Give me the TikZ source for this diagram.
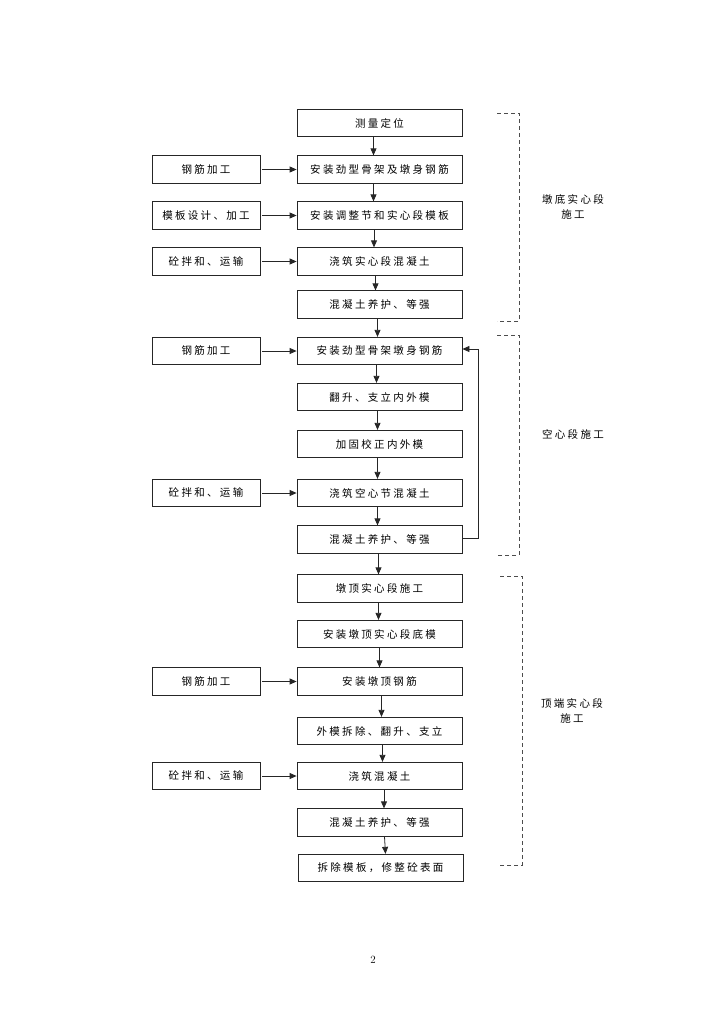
\documentclass[tikz,border=0pt]{standalone}
\usepackage{fontspec}
\newfontfamily\cjk[LetterSpace=22]{Noto Sans CJK SC}
\usetikzlibrary{arrows.meta}
\begin{document}
\begin{tikzpicture}[x=1pt,y=-1pt,
  font=\cjk\fontsize{10.5}{12}\selectfont,
  mainbox/.style={draw=black!85,line width=0.8pt,minimum width=165pt,minimum height=27.5pt,inner sep=0pt},
  sidebox/.style={draw=black!85,line width=0.8pt,minimum width=108pt,minimum height=27.5pt,inner sep=0pt},
  arr/.style={draw=black!85,line width=0.8pt,-{Triangle[length=7pt,width=6pt]}},
  brk/.style={draw=black!70,line width=0.8pt,dash pattern=on 4pt off 3pt},
  lbl/.style={align=center,inner sep=0pt}]
\useasboundingbox (0,0) rectangle (726,1026);
% main column
\node[mainbox] (b1) at (379.5,123) {测量定位};
\node[mainbox] (b2) at (379.5,169.5) {安装劲型骨架及墩身钢筋};
\node[mainbox] (b3) at (379.5,215.5) {安装调整节和实心段模板};
\node[mainbox] (b4) at (379.5,261.5) {浇筑实心段混凝土};
\node[mainbox] (b5) at (379.5,304.5) {混凝土养护、等强};
\node[mainbox] (b6) at (379.5,351) {安装劲型骨架墩身钢筋};
\node[mainbox] (b7) at (379.5,397) {翻升、支立内外模};
\node[mainbox] (b8) at (379.5,444) {加固校正内外模};
\node[mainbox] (b9) at (379.5,493) {浇筑空心节混凝土};
\node[mainbox] (b10) at (379.5,539.5) {混凝土养护、等强};
\node[mainbox] (b11) at (379.5,588.5) {墩顶实心段施工};
\node[mainbox] (b12) at (379.5,634) {安装墩顶实心段底模};
\node[mainbox] (b13) at (379.5,681.5) {安装墩顶钢筋};
\node[mainbox] (b14) at (379.5,731) {外模拆除、翻升、支立};
\node[mainbox] (b15) at (379.5,776) {浇筑混凝土};
\node[mainbox] (b16) at (379.5,822.5) {混凝土养护、等强};
\node[mainbox] (b17) at (380.5,868) {拆除模板，修整砼表面};
% side boxes
\node[sidebox] (s2) at (206,169.5) {钢筋加工};
\node[sidebox] (s3) at (206,215.5) {模板设计、加工};
\node[sidebox] (s4) at (206,261.5) {砼拌和、运输};
\node[sidebox] (s6) at (206,351) {钢筋加工};
\node[sidebox] (s9) at (206,493) {砼拌和、运输};
\node[sidebox] (s13) at (206,681.5) {钢筋加工};
\node[sidebox] (s15) at (206,776) {砼拌和、运输};
% vertical arrows
\draw[arr] ([xshift=-6pt]b1.south) -- ([xshift=-6pt]b2.north);
\draw[arr] ([xshift=-6pt]b2.south) -- ([xshift=-6pt]b3.north);
\draw[arr] ([xshift=-5.5pt]b3.south) -- ([xshift=-5.5pt]b4.north);
\draw[arr] ([xshift=-4pt]b4.south) -- ([xshift=-4pt]b5.north);
\draw[arr] ([xshift=-2pt]b5.south) -- ([xshift=-2pt]b6.north);
\draw[arr] ([xshift=-3pt]b6.south) -- ([xshift=-3pt]b7.north);
\draw[arr] ([xshift=-2pt]b7.south) -- ([xshift=-2pt]b8.north);
\draw[arr] ([xshift=-2pt]b8.south) -- ([xshift=-2pt]b9.north);
\draw[arr] ([xshift=-2pt]b9.south) -- ([xshift=-2pt]b10.north);
\draw[arr] ([xshift=-1pt]b10.south) -- ([xshift=-1pt]b11.north);
\draw[arr] ([xshift=-1pt]b11.south) -- ([xshift=-1pt]b12.north);
\draw[arr] (b12.south) -- (b13.north);
\draw[arr] ([xshift=2pt]b13.south) -- ([xshift=2pt]b14.north);
\draw[arr] ([xshift=3pt]b14.south) -- ([xshift=3pt]b15.north);
\draw[arr] ([xshift=4.5pt]b15.south) -- ([xshift=4.5pt]b16.north);
\draw[arr] ([xshift=5pt]b16.south) -- ([xshift=5pt]b17.north);
% side arrows
\foreach \s/\b in {s2/b2,s3/b3,s4/b4,s6/b6,s9/b9,s13/b13,s15/b15}
  \draw[arr] ([xshift=1.5pt]\s.east) -- (\b.west);
% feedback loop
\coordinate (fb) at (478,0);
\draw[arr] ([yshift=1.5pt]b10.east) -| ([yshift=2pt]fb |- b6.east) -- ([yshift=2pt]b6.east);
% dashed brackets
\coordinate (k1a) at (497,113); \coordinate (k1b) at (519,321);
\coordinate (k2a) at (497,335); \coordinate (k2b) at (519,555);
\coordinate (k3a) at (500,576); \coordinate (k3b) at (522,865);
\draw[brk] (k1a) -| (k1b) -- (k1a |- k1b);
\draw[brk] (k2a) -| (k2b) -- (k2a |- k2b);
\draw[brk] (k3a) -| (k3b) -- (k3a |- k3b);
% bracket labels
\node[lbl] (l1) at (573,207) {墩底实心段\\[3pt]施工};
\node[lbl] (l2) at (573,434) {空心段施工};
\node[lbl] (l3) at (572,711) {顶端实心段\\[3pt]施工};
% page number
\node[font=\rmfamily\fontsize{11}{12}\selectfont] (pn) at (373,960) {2};
\end{tikzpicture}
\end{document}
